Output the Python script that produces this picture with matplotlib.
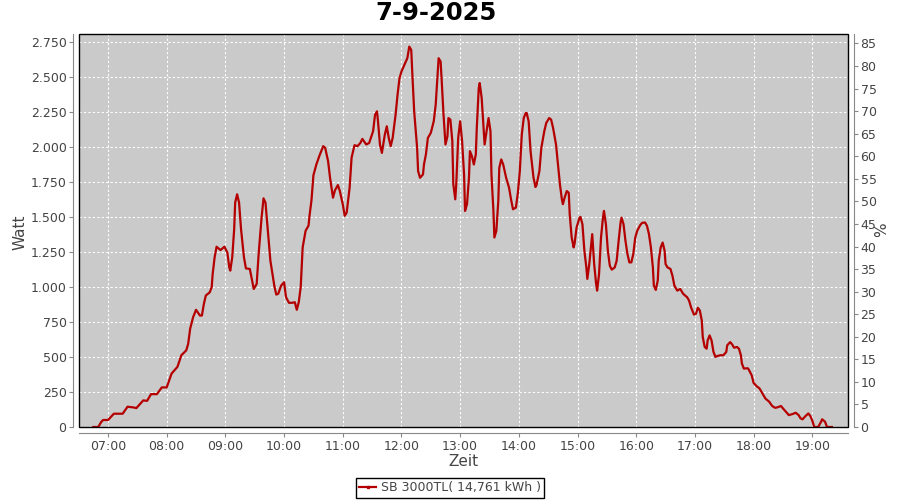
import matplotlib
matplotlib.use("Agg")
import matplotlib.pyplot as plt
from matplotlib.lines import Line2D
from matplotlib.patches import Rectangle
from matplotlib.ticker import FuncFormatter

# measured AC power of the inverter, one line per hour
zeit = [
    "06:45", "06:50", "06:53", "06:55",
    "07:00", "07:06", "07:15", "07:20", "07:26", "07:29", "07:36", "07:40", "07:44", "07:50", "07:55",
    "08:00", "08:05", "08:11", "08:15", "08:20", "08:22", "08:24", "08:27", "08:30", "08:34",
    "08:36", "08:38", "08:40", "08:44", "08:46", "08:47", "08:49", "08:51", "08:55", "08:59",
    "09:02", "09:04", "09:05", "09:07", "09:09", "09:10", "09:12", "09:14", "09:16", "09:19", "09:21", "09:25",
    "09:27", "09:29", "09:32", "09:34", "09:37", "09:39", "09:41", "09:43", "09:46", "09:50", "09:52", "09:54", "09:57",
    "10:00", "10:02", "10:05", "10:08", "10:11", "10:13", "10:15", "10:17", "10:19", "10:22", "10:25", "10:26",
    "10:28", "10:30", "10:33", "10:36", "10:40", "10:42", "10:45", "10:47", "10:50", "10:52", "10:55", "10:57",
    "11:00", "11:02", "11:04", "11:07", "11:09", "11:12", "11:15", "11:18", "11:20", "11:24", "11:27", "11:31", "11:33",
    "11:35", "11:36", "11:38", "11:40", "11:43", "11:45", "11:47", "11:49", "11:51", "11:54", "11:56", "11:58",
    "12:00", "12:03", "12:06", "12:08", "12:10", "12:11", "12:13", "12:16", "12:17", "12:19", "12:22", "12:23", "12:25",
    "12:27", "12:30", "12:33", "12:35", "12:36", "12:38", "12:40", "12:41", "12:43", "12:45", "12:47", "12:48", "12:50",
    "12:52", "12:53", "12:55", "12:56", "12:58",
    "13:00", "13:02", "13:04", "13:05", "13:07", "13:09", "13:10", "13:12", "13:14", "13:16", "13:17", "13:19", "13:20",
    "13:22", "13:24", "13:25", "13:27", "13:29", "13:31", "13:32", "13:34", "13:35", "13:37", "13:39", "13:40", "13:42",
    "13:44", "13:47", "13:50", "13:52", "13:54", "13:57", "13:59",
    "14:01", "14:03", "14:05", "14:07", "14:08", "14:10", "14:12", "14:15", "14:17", "14:18", "14:21", "14:23", "14:26",
    "14:28", "14:31", "14:33", "14:35", "14:38", "14:40", "14:42", "14:44", "14:45", "14:47", "14:49", "14:51", "14:52",
    "14:54", "14:56", "14:57", "14:59",
    "15:02", "15:03", "15:05", "15:07", "15:09", "15:10", "15:12", "15:14", "15:15", "15:17", "15:19", "15:20", "15:22",
    "15:24", "15:26", "15:27", "15:29", "15:31", "15:33", "15:35", "15:38", "15:40", "15:42", "15:44", "15:45", "15:47",
    "15:49", "15:51", "15:53", "15:55", "15:57", "15:59",
    "16:01", "16:04", "16:06", "16:09", "16:11", "16:13", "16:15", "16:17", "16:18", "16:20", "16:22", "16:23", "16:25",
    "16:27", "16:29", "16:30", "16:32", "16:35", "16:37", "16:39", "16:42", "16:45", "16:48", "16:52", "16:54", "16:56", "16:59",
    "17:01", "17:03", "17:05", "17:07", "17:08", "17:10", "17:12", "17:13", "17:15", "17:17", "17:19", "17:21", "17:23",
    "17:26", "17:29", "17:32", "17:33", "17:36", "17:38", "17:40", "17:43", "17:45", "17:47", "17:48", "17:50", "17:54",
    "17:55", "17:58",
    "18:00", "18:03", "18:06", "18:09", "18:12", "18:16", "18:19", "18:22", "18:24", "18:28", "18:30", "18:33", "18:36",
    "18:40", "18:43", "18:46", "18:48", "18:50", "18:53", "18:56", "18:58",
    "19:00", "19:02", "19:06", "19:09", "19:10", "19:13", "19:15", "19:20",
]
watt = [
    0, 0, 35, 50,
    50, 95, 95, 145, 140, 135, 190, 187, 235, 235, 283,
    283, 382, 430, 513, 548, 596, 703, 785, 838, 797,
    797, 880, 940, 963, 1000, 1094, 1213, 1289, 1265, 1289,
    1248, 1141, 1118, 1213, 1415, 1604, 1664, 1604, 1415, 1213, 1134, 1130,
    1059, 987, 1023, 1237, 1497, 1635, 1604, 1438, 1189, 1011, 947, 952, 1011,
    1035, 928, 888, 888, 892, 838, 892, 1000, 1284, 1403, 1440, 1510,
    1620, 1800, 1877, 1937, 2008, 1996, 1901, 1782, 1640, 1692, 1730, 1687,
    1593, 1510, 1533, 1711, 1925, 2015, 2008, 2031, 2060, 2020, 2031, 2115, 2233,
    2257, 2186, 2020, 1960, 2091, 2150, 2067, 2008, 2067, 2233, 2376, 2494,
    2542, 2590, 2637, 2720, 2696, 2542, 2257, 1996, 1830, 1782, 1806, 1877, 1949,
    2067, 2103, 2186, 2305, 2412, 2637, 2613, 2494, 2233, 2020, 2079, 2209, 2198,
    2043, 1735, 1628, 1735, 2067,
    2186, 2043, 1806, 1545, 1593, 1782, 1972, 1937, 1877, 1949, 2138, 2423, 2459,
    2352, 2138, 2020, 2115, 2209, 2115, 1806, 1545, 1355, 1403, 1616, 1853, 1913,
    1877, 1782, 1711, 1628, 1557, 1569, 1675,
    1830, 2091, 2209, 2245, 2245, 2186, 1970, 1782, 1716, 1728, 1830, 1996, 2115,
    2174, 2209, 2198, 2138, 2020, 1877, 1735, 1628, 1593, 1645, 1687, 1675, 1521,
    1355, 1284, 1312, 1426,
    1497, 1502, 1450, 1260, 1141, 1059, 1165, 1308, 1379, 1165, 1023, 975, 1094,
    1355, 1497, 1545, 1450, 1260, 1153, 1125, 1141, 1189, 1331, 1462, 1497, 1450,
    1331, 1237, 1177, 1177, 1237, 1355,
    1403, 1443, 1460, 1462, 1438, 1379, 1284, 1141, 1011, 980, 1047, 1189, 1284,
    1319, 1260, 1165, 1141, 1130, 1082, 1011, 975, 987, 952, 928, 904, 856, 804,
    809, 852, 833, 762, 643, 572, 560, 619, 655, 619, 536, 501, 508,
    513, 513, 536, 584, 607, 591, 567, 572, 560, 513, 454, 418, 420,
    411, 370,
    315, 292, 276, 240, 204, 180, 150, 137, 140, 150, 133, 109, 85,
    93, 102, 85, 62, 55, 78, 97, 78,
    45, 0, 0, 38, 55, 38, 0, 0,
]
assert len(zeit) == len(watt)

stunden = list(range(7, 20))
watt_ticks = list(range(0, 2751, 250))
prozent_ticks = list(range(0, 86, 5))

titel = "7-9-2025"
serie = "SB 3000TL( 14,761 kWh )"

rot = "#b40000"
grau_text = "#444444"
grau_achse = "#888888"

x = [int(t[:2]) + int(t[3:]) / 60 for t in zeit]

fig = plt.figure(figsize=(9, 5), dpi=100)
ax = fig.add_axes([79 / 900, 1 - 427 / 500, 769 / 900, 393 / 500])
ax.set_facecolor("#cacaca")

ax.plot(x, watt, color=rot, lw=1.6, zorder=3)

ax.set_xlim(6.506, 19.608)
ax.set_ylim(0, 2810)
ax.set_xticks(stunden)
ax.set_xticklabels([f"{h:02d}:00" for h in stunden])
ax.set_yticks(watt_ticks)
ax.yaxis.set_major_formatter(FuncFormatter(lambda v, p: f"{int(v):,}".replace(",", ".")))
ax.grid(True, color="white", linestyle=(0, (2, 2)), linewidth=0.8)

for s in ["top", "right"]:
    ax.spines[s].set_visible(False)
for s in ["left", "bottom"]:
    ax.spines[s].set_position(("outward", 4))
    ax.spines[s].set_color(grau_achse)
ax.tick_params(direction="out", length=3, width=0.8, color=grau_achse,
               labelsize=9, labelcolor=grau_text, pad=2)

ax2 = ax.twinx()
ax2.set_ylim(0, 87.1)
ax2.set_yticks(prozent_ticks)
for s in ["top", "left", "bottom"]:
    ax2.spines[s].set_visible(False)
ax2.spines["right"].set_position(("outward", 4))
ax2.spines["right"].set_color(grau_achse)
ax2.tick_params(direction="out", length=3, width=0.8, color=grau_achse,
                labelsize=9, labelcolor=grau_text, pad=2)

# black frame around the plot area
ax.add_patch(Rectangle((0, 0), 1, 1, transform=ax.transAxes, fill=False,
                       edgecolor="black", lw=1, zorder=5, clip_on=False))

fig.text(436 / 900, 1 - 13 / 500, titel, fontsize=17.5, weight="bold",
         ha="center", va="center", color="black")
fig.text(20 / 900, 1 - 232 / 500, "Watt", rotation=90, fontsize=11,
         ha="center", va="center", color=grau_text)
fig.text(882 / 900, 1 - 230 / 500, "%", rotation=90, fontsize=11,
         ha="center", va="center", color=grau_text)
fig.text(463 / 900, 1 - 461 / 500, "Zeit", fontsize=11,
         ha="center", va="center", color=grau_text)

handle = Line2D([], [], color=rot, lw=1.6, marker="s", markersize=2)
leg = fig.legend([handle], [serie], loc="center", bbox_to_anchor=(450 / 900, 1 - 488 / 500),
                 fancybox=False, edgecolor="black", fontsize=9, handlelength=1.3,
                 borderpad=0.25, handletextpad=0.4, framealpha=1)
leg.get_frame().set_linewidth(1)
for t in leg.get_texts():
    t.set_color(grau_text)

fig.savefig("out.png", dpi=100)
